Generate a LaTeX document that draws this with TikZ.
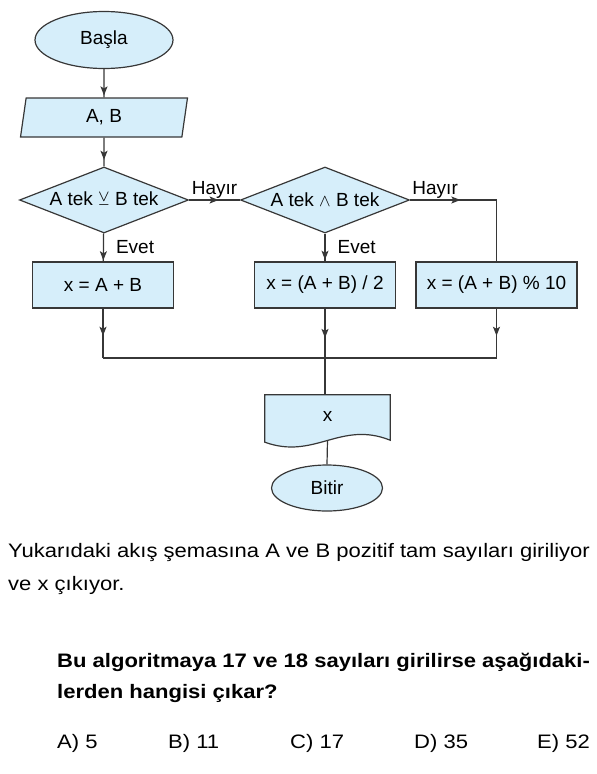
\documentclass[tikz,border=0pt]{standalone}
\usepackage{amsmath,amssymb}
\usepackage{fontspec}
\setmainfont{Liberation Sans}
\newfontfamily\bodyfont[FakeStretch=1.13]{Liberation Sans}
\usetikzlibrary{shapes.geometric,arrows.meta,positioning,calc,decorations.markings}
\definecolor{boxblue}{RGB}{214,238,250}
\definecolor{linegray}{RGB}{55,55,55}
\pgfdeclarelayer{background}
\pgfsetlayers{background,main}

\begin{document}
\begin{tikzpicture}[
        x=1pt, y=-1pt,
        font=\fontsize{19}{22}\selectfont,
        terminal/.style={ellipse, draw=linegray, fill=boxblue, line width=1.2pt, inner sep=0pt},
        inout/.style={trapezium, trapezium left angle=70, trapezium right angle=110, trapezium stretches body,
            draw=linegray, fill=boxblue, line width=1.2pt, inner sep=0pt, minimum width=167pt, minimum height=39pt},
        decision/.style={diamond, aspect=2.5, draw=linegray, fill=boxblue, line width=1.2pt, inner sep=0pt,
            minimum width=169pt, minimum height=66pt},
        process/.style={rectangle, draw=linegray, fill=boxblue, line width=1.2pt, minimum height=46pt},
        docbox/.style={rectangle, inner sep=0pt, minimum width=125pt, minimum height=42pt},
        flowline/.style={draw=linegray, line width=1.2pt},
        midarrow/.style={flowline, postaction={decorate}, decoration={markings,
            mark=at position #1 with {\arrow[linegray]{Stealth[length=9pt, width=7pt, inset=2pt]}}}},
        lbl/.style={inner sep=1pt},
        body/.style={font=\bodyfont\fontsize{19.5}{23}\selectfont, inner sep=0pt, anchor=base west}
    ]
    \useasboundingbox (0,0) rectangle (597,774);

    % flowchart
    \node[terminal, minimum width=138pt, minimum height=57pt] (start) at (104,40) {Başla};
    \node[inout] (input) at (104,117.5) {A, B};
    \node[decision] (xorcheck) at (104,200) {A tek $\veebar$ B tek};
    \node[decision] (andcheck) at (325,200) {A tek $\wedge$ B tek};
    \node[process, minimum width=141pt] (sum) at (103,285) {x = A + B};
    \node[process, minimum width=141pt] (half) at (325,285) {x = (A + B) / 2};
    \node[process, minimum width=161pt] (mod) at (496.5,285) {x = (A + B) \% 10};
    \node[docbox] (output) at (327.5,416) {x};
    \node[terminal, minimum width=111pt, minimum height=46pt] (stop) at (327,488) {Bitir};
    \coordinate (join) at (325,358);

    \begin{pgfonlayer}{background}
        \filldraw[flowline, fill=boxblue] (output.north west) -- (output.north east)
            -- ($(output.south east)+(0,3)$)
            .. controls ($(output.south east)+(-50,-17)$) and ($(output.south west)+(50,23)$)
            .. ($(output.south west)+(0,5)$) -- cycle;
    \end{pgfonlayer}

    \draw[midarrow=0.93] (start) -- (input);
    \draw[midarrow=0.77] (input) -- (xorcheck);
    \draw[midarrow=0.58] (xorcheck) -- node[lbl, above] {Hayır} (andcheck);
    \draw[midarrow=0.96] (xorcheck) -- node[lbl, right=11pt] {Evet} (sum);
    \draw[midarrow=0.94] (andcheck) -- node[lbl, right=11pt] {Evet} (half);
    \draw[midarrow=0.34] (andcheck.east) -- node[lbl, above, pos=0.29] {Hayır} (andcheck.east -| mod.north) -- (mod.north);

    \draw[midarrow=0.55] (sum.south) -- (sum.south |- join);
    \draw[midarrow=0.55] (mod.south) -- (mod.south |- join);
    \draw[flowline] (sum.south |- join) -- (mod.south |- join);
    \draw[midarrow=0.34] (half.south) -- (half.south |- output.north);
    \draw[flowline] ($(output.south)+(0,3)$) -- (stop.north);

    % question text
    \node[body] (desc1) at (8,557) {Yukarıdaki akış şemasına A ve B pozitif tam sayıları giriliyor};
    \node[body] (desc2) at (8,590) {ve x çıkıyor.};
    \node[body, font=\bodyfont\bfseries\fontsize{19.5}{23}\selectfont] (ask1) at (57,667) {Bu algoritmaya 17 ve 18 sayıları girilirse aşağıdaki-};
    \node[body, font=\bodyfont\bfseries\fontsize{19.5}{23}\selectfont] (ask2) at (57,698) {lerden hangisi çıkar?};
    \node[body] (optA) at (57,748) {A) 5};
    \node[body] (optB) at (168,748) {B) 11};
    \node[body] (optC) at (290,748) {C) 17};
    \node[body] (optD) at (414,748) {D) 35};
    \node[body] (optE) at (537,748) {E) 52};
\end{tikzpicture}
\end{document}
